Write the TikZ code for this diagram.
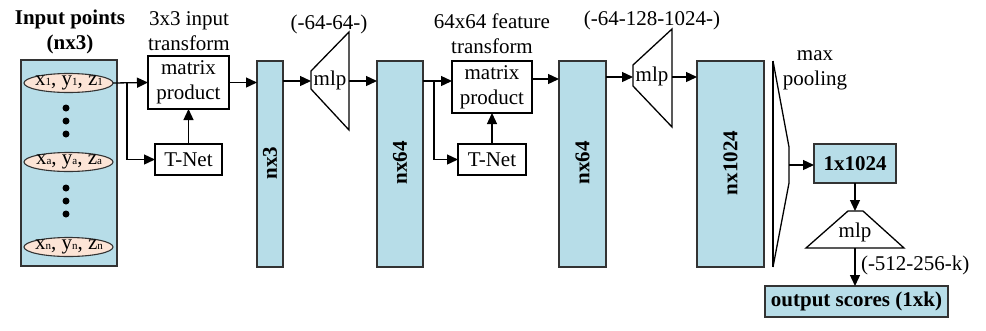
\documentclass[tikz,border=0pt]{standalone}
\usepackage{fontspec}
\setmainfont{Liberation Serif}
\usetikzlibrary{arrows.meta,shapes.geometric}
\definecolor{lblue}{RGB}{183,221,232}
\definecolor{peach}{RGB}{252,228,214}
\newcommand{\tinysb}[1]{{\fontsize{11}{11}\selectfont #1}}
\begin{document}
\begin{tikzpicture}[x=1pt,y=-1pt,
  font=\fontsize{21}{25}\selectfont,
  every node/.style={inner sep=0pt, outer sep=0pt},
  bluebox/.style={draw=black!80, fill=lblue, line width=1.3pt},
  wbox/.style={draw=black, fill=white, line width=1.3pt, align=center},
  ptell/.style={ellipse, draw=black!80, fill=peach, line width=1.1pt, minimum width=89pt, minimum height=19pt},
  dotnode/.style={circle, fill=black, minimum size=7pt},
  shp/.style={draw=black, line width=1.3pt},
  arr/.style={draw=black, line width=1.3pt, -{Triangle[length=11pt,width=10pt]}},
  ln/.style={draw=black, line width=1.3pt},
  txt/.style={align=center},
  vtext/.style={rotate=90, font=\fontsize{21}{25}\selectfont\bfseries}
]
\useasboundingbox (0,0) rectangle (986,330);

% input block
\node[txt, font=\fontsize{21}{25}\selectfont\bfseries] (intitle) at (70,32) {Input points\\(nx3)};
\node[bluebox, minimum width=96pt, minimum height=206pt] (in) at (69,163) {};
\node[ptell] (p1) at (68.5,83) {};
\node (p1t) at (69,83) {x\tinysb{1}, y\tinysb{1}, z\tinysb{1}};
\node[ptell] (pa) at (68.5,162) {};
\node (pat) at (69,162) {x\tinysb{a}, y\tinysb{a}, z\tinysb{a}};
\node[ptell] (pn) at (68.5,247) {};
\node (pnt) at (69,247) {x\tinysb{n}, y\tinysb{n}, z\tinysb{n}};
\node[dotnode] (d1) at (66,108) {};
\node[dotnode] (d2) at (66,121) {};
\node[dotnode] (d3) at (66,134) {};
\node[dotnode] (d4) at (66,188) {};
\node[dotnode] (d5) at (66,201) {};
\node[dotnode] (d6) at (66,214) {};

% input transform
\node[txt] (cap1) at (189,31) {3x3 input\\transform};
\node[wbox, minimum width=81pt, minimum height=53pt] (m1) at (188.5,82.5) {matrix\\product};
\node[wbox, minimum width=67pt, minimum height=31pt] (t1) at (188.5,159.5) {T-Net};
\coordinate (b1) at (127,83);
\draw[arr] (p1.east) -- (m1.west);
\draw[arr] (b1) |- (t1.west);
\draw[arr] (t1.north) -- (m1.south);

% nx3
\node[bluebox, minimum width=26pt, minimum height=206pt] (nx3) at (270,164) {};
\node[vtext] (nx3t) at (270,163) {nx3};
\draw[arr] (m1.east) -- (m1.east -| nx3.west);

% mlp 1
\coordinate (ml1a) at (311,71);
\coordinate (ml1b) at (349,32);
\coordinate (ml1c) at (349,130);
\coordinate (ml1d) at (311,89);
\draw[shp] (ml1a) -- (ml1b) -- (ml1c) -- (ml1d) -- cycle;
\node (mlp1) at (330,80) {mlp};
\node (lab1) at (329,24) {(-64-64-)};
\coordinate (ml1in) at (311,81);
\coordinate (ml1out) at (349,81);
\draw[arr] (nx3.east |- ml1in) -- (ml1in);

% nx64 a
\node[bluebox, minimum width=46pt, minimum height=206pt] (nx64a) at (400,164) {};
\node[vtext] (nx64at) at (400,163) {nx64};
\draw[arr] (ml1out) -- (ml1out -| nx64a.west);

% feature transform
\node[txt] (cap2) at (492,34) {64x64 feature\\transform};
\node[wbox, minimum width=80pt, minimum height=52pt] (m2) at (492,87) {matrix\\product};
\node[wbox, minimum width=68pt, minimum height=31pt] (t2) at (492,159.5) {T-Net};
\coordinate (a2) at (423,81);
\coordinate (b2) at (434,81);
\draw[arr] (a2) -- (a2 -| m2.west);
\draw[arr] (b2) |- (t2.west);
\draw[arr] (t2.north) -- (m2.south);

% nx64 b
\node[bluebox, minimum width=47pt, minimum height=206pt] (nx64b) at (582.5,164) {};
\node[vtext] (nx64bt) at (582.5,163) {nx64};
\coordinate (a3) at (532,79);
\draw[arr] (a3) -- (a3 -| nx64b.west);

% mlp 2
\coordinate (ml2a) at (633,65);
\coordinate (ml2b) at (672,29);
\coordinate (ml2c) at (672,127);
\coordinate (ml2d) at (633,86);
\draw[shp] (ml2a) -- (ml2b) -- (ml2c) -- (ml2d) -- cycle;
\node (mlp2) at (652,76) {mlp};
\node (lab2) at (652,20) {(-64-128-1024-)};
\coordinate (ml2in) at (633,77);
\coordinate (ml2out) at (672,77);
\draw[arr] (nx64b.east |- ml2in) -- (ml2in);

% nx1024
\node[bluebox, minimum width=67pt, minimum height=206pt] (nx1024) at (730.5,164) {};
\node[vtext] (nx1024t) at (730.5,163) {nx1024};
\draw[arr] (ml2out) -- (ml2out -| nx1024.west);

% max pooling
\coordinate (mp1) at (773,61);
\coordinate (mp2) at (789,147);
\coordinate (mp3) at (789,183);
\coordinate (mp4) at (773,267);
\draw[shp] (mp1) -- (mp4);
\draw[shp] (mp1) -- (mp2) -- (mp3) -- (mp4);
\node[txt] (mpt) at (815,70) {max\\pooling};
\coordinate (mpout) at (789,165);

% global feature
\node[bluebox, minimum width=82pt, minimum height=39pt, font=\fontsize{21}{25}\selectfont\bfseries] (g) at (855,163.5) {1x1024};
\draw[arr] (mpout) -- (mpout -| g.west);

% mlp 3
\coordinate (ml3a) at (848,211);
\coordinate (ml3b) at (863,211);
\coordinate (ml3c) at (904,248);
\coordinate (ml3d) at (806,248);
\draw[shp] (ml3a) -- (ml3b) -- (ml3c) -- (ml3d) -- cycle;
\node (mlp3) at (855,232) {mlp};
\coordinate (ml3top) at (855,211);
\coordinate (ml3bot) at (855,248);
\draw[arr] (g.south) -- (ml3top);

% output
\node[bluebox, minimum width=183pt, minimum height=31pt, font=\fontsize{21}{25}\selectfont\bfseries] (out) at (856.5,301.5) {output scores (1xk)};
\draw[arr] (ml3bot) -- (ml3bot |- out.north);
\node[anchor=west] (lab3) at (861,265) {(-512-256-k)};
\end{tikzpicture}
\end{document}
